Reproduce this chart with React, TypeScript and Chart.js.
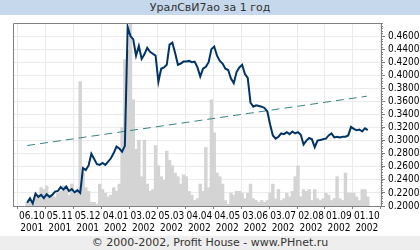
import React, { useEffect, useRef } from "react";
import { Chart, registerables } from "chart.js";
Chart.register(...registerables);

const titleText = "УралСвИ7ао за 1 год";
const footerText = "© 2000-2002, Profit House - www.PHnet.ru";

const startDate = "2001-10-01";
const endDate = "2002-10-01";
const stepDays = 3;

const tickDates = [
  "2001-10-06", "2001-11-05", "2001-12-05", "2002-01-04", "2002-02-03", "2002-03-05", "2002-04-04",
  "2002-05-04", "2002-06-03", "2002-07-03", "2002-08-02", "2002-09-01", "2002-10-01",
];
const tickLabels = [
  ["06.10", "2001"], ["05.11", "2001"], ["05.12", "2001"], ["04.01", "2002"], ["03.02", "2002"],
  ["05.03", "2002"], ["04.04", "2002"], ["04.05", "2002"], ["03.06", "2002"], ["03.07", "2002"],
  ["02.08", "2002"], ["01.09", "2002"], ["01.10", "2002"],
];
const yTicks = [0.2, 0.22, 0.24, 0.26, 0.28, 0.3, 0.32, 0.34, 0.36, 0.38, 0.4, 0.42, 0.44, 0.46];
const yMin = 0.2;
const yMax = 0.48;

const priceValues = [
  0.205, 0.212, 0.204, 0.219, 0.214, 0.217, 0.212, 0.218, 0.214, 0.217,
  0.222, 0.223, 0.229, 0.225, 0.230, 0.223, 0.226, 0.221, 0.224, 0.220,
  0.258, 0.255, 0.262, 0.280, 0.272, 0.264, 0.263, 0.266, 0.263, 0.268,
  0.273, 0.281, 0.291, 0.288, 0.283, 0.292, 0.474, 0.460, 0.455, 0.430,
  0.445, 0.425, 0.432, 0.442, 0.436, 0.433, 0.430, 0.390, 0.410, 0.412,
  0.416, 0.447, 0.450, 0.434, 0.416, 0.418, 0.421, 0.421, 0.422, 0.420,
  0.421, 0.412, 0.398, 0.410, 0.413, 0.420, 0.440, 0.444, 0.430, 0.422,
  0.418, 0.410, 0.408, 0.395, 0.388, 0.405, 0.412, 0.416, 0.402, 0.396,
  0.358, 0.352, 0.354, 0.353, 0.352, 0.350, 0.345, 0.325, 0.308, 0.303,
  0.306, 0.311, 0.310, 0.313, 0.310, 0.314, 0.311, 0.313, 0.309, 0.294,
  0.300, 0.304, 0.302, 0.290, 0.300, 0.301, 0.302, 0.303, 0.308, 0.311,
  0.305, 0.306, 0.305, 0.306, 0.306, 0.308, 0.321, 0.318, 0.316, 0.317,
  0.314, 0.319, 0.316,
];

const volumeValues = [
  2, 3, 2, 5, 6, 10, 9, 11, 6, 5,
  5, 7, 8, 11, 10, 6, 12, 8, 9, 68,
  18, 10, 8, 2, 2, 1, 12, 9, 7, 5,
  6, 10, 8, 12, 43, 80, 85, 100, 58, 31,
  36, 16, 36, 12, 8, 9, 33, 22, 16, 14,
  30, 25, 22, 18, 16, 12, 17, 16, 8, 6,
  3, 4, 12, 8, 32, 10, 58, 40, 18, 16,
  12, 3, 1, 7, 6, 8, 8, 7, 4, 7,
  12, 4, 3, 2, 3, 2, 3, 7, 12, 4,
  9, 3, 4, 7, 5, 8, 16, 22, 5, 9,
  8, 9, 3, 9, 4, 3, 4, 7, 6, 3,
  4, 16, 4, 3, 18, 7, 7, 7, 5, 3,
  9, 9, 5,
];

const trendValues = [0.2925, 0.368];

const dayOf = (d: string) => (Date.parse(d) - Date.parse(startDate)) / 86400000;

const FONT = "'Liberation Sans Narrow', 'DejaVu Sans Condensed', Arial, sans-serif";

const framePlugin = {
  id: "frame",
  afterDatasetsDraw(chart: any) {
    const { ctx, chartArea: a } = chart;
    const y = chart.scales.y;
    ctx.save();
    ctx.strokeStyle = "#808080";
    ctx.lineWidth = 1;
    ctx.beginPath();
    ctx.moveTo(a.left + 0.5, a.bottom);
    ctx.lineTo(a.left + 0.5, a.top + 0.5);
    ctx.lineTo(a.right + 0.5, a.top + 0.5);
    ctx.lineTo(a.right + 0.5, a.bottom + 0.5);
    ctx.lineTo(a.left, a.bottom + 0.5);
    ctx.stroke();
    ctx.beginPath();
    for (let v = yMin; v <= yMax + 1e-9; v += 0.004) {
      const py = Math.round(y.getPixelForValue(v)) + 0.5;
      ctx.moveTo(a.right, py);
      ctx.lineTo(a.right + 2, py);
    }
    ctx.stroke();
    ctx.restore();
  },
};

export default function App() {
  const ref = useRef<HTMLCanvasElement>(null);
  useEffect(() => {
    const tickDays = tickDates.map(dayOf);
    const priceData = priceValues.map((v, i) => ({ x: i * stepDays, y: v }));
    const volData = volumeValues.map((v, i) => ({ x: i * stepDays, y: v }));
    const trendData = [
      { x: 0, y: trendValues[0] },
      { x: dayOf(endDate), y: trendValues[1] },
    ];
    const chart = new Chart(ref.current!, {
      type: "bar",
      data: {
        datasets: [
          {
            type: "line",
            data: priceData,
            borderColor: "#003366",
            borderWidth: 2,
            pointRadius: 0,
            tension: 0,
            yAxisID: "y",
            order: 0,
          } as any,
          {
            type: "line",
            data: trendData,
            borderColor: "#3a8282",
            borderWidth: 1,
            borderDash: [8, 5],
            pointRadius: 0,
            yAxisID: "y",
            order: 1,
          } as any,
          {
            type: "bar",
            data: volData,
            backgroundColor: "#d4d4d4",
            barPercentage: 1,
            categoryPercentage: 1,
            yAxisID: "yv",
            order: 2,
          } as any,
        ],
      },
      options: {
        responsive: false,
        animation: false,
        devicePixelRatio: 1,
        layout: { padding: { left: 13, top: 23, right: 0, bottom: 0 } },
        plugins: { legend: { display: false }, tooltip: { enabled: false } },
        scales: {
          x: {
            type: "linear",
            min: 0,
            max: dayOf(endDate),
            afterFit: (s: any) => { s.height = 44; },
            afterBuildTicks: (s: any) => { s.ticks = tickDays.map((v) => ({ value: v })); },
            grid: { color: "#ebebeb", tickColor: "#808080", tickLength: 3, drawTicks: true },
            border: { display: false },
            ticks: {
              autoSkip: false,
              maxRotation: 0,
              padding: 1,
              color: "#000",
              font: { family: FONT, size: 10, lineHeight: 1.2 },
              callback: (_v: any, i: number) => tickLabels[i],
            },
          },
          y: {
            type: "linear",
            position: "right",
            min: yMin,
            max: yMax,
            afterFit: (s: any) => { s.width = 39; },
            afterBuildTicks: (s: any) => { s.ticks = yTicks.map((v) => ({ value: v })); },
            grid: { color: "#ebebeb", tickColor: "#808080", tickLength: 4, drawTicks: true },
            border: { display: false },
            ticks: {
              autoSkip: false,
              padding: 3,
              color: "#000",
              font: { family: FONT, size: 10 },
              callback: (v: any) => Number(v).toFixed(4),
            },
          },
          yv: {
            type: "linear",
            display: false,
            min: 0,
            max: 100,
          },
        },
      } as any,
      plugins: [framePlugin],
    });
    return () => chart.destroy();
  }, []);

  return (
    <div style={{ position: "fixed", left: 0, top: 0, width: 420, height: 250, background: "#fff", overflow: "hidden" }}>
      <canvas ref={ref} width={420} height={250} style={{ position: "absolute", left: 0, top: 0 }} />
      <div
        style={{
          position: "absolute", left: 0, top: 0, width: 420, height: 15, background: "#c6d8ec",
          font: "11px 'DejaVu Sans', Verdana, sans-serif", color: "#333", textAlign: "center", lineHeight: "15px",
        }}
      >
        {titleText}
      </div>
      <div
        style={{
          position: "absolute", left: 0, top: 236, width: 420, height: 14, background: "#eeeeee",
          font: "11px 'DejaVu Sans', Verdana, sans-serif", color: "#333", textAlign: "center", lineHeight: "14px",
        }}
      >
        {footerText}
      </div>
    </div>
  );
}
